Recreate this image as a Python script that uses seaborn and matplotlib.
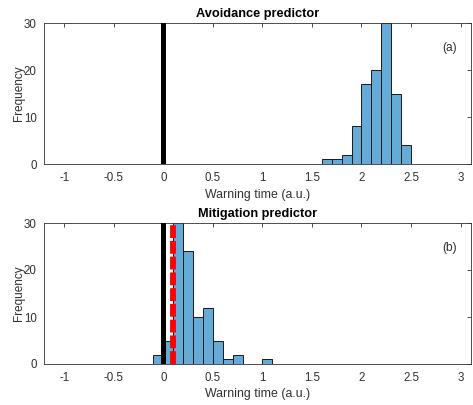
import numpy as np
import pandas as pd
import matplotlib
matplotlib.use("Agg")
import matplotlib.pyplot as plt
import seaborn as sns

# ---- data ----
avoid_edges = [1.6, 1.7, 1.8, 1.9, 2.0, 2.1, 2.2, 2.3, 2.4, 2.5]
avoid_counts = [1, 1, 2, 8, 17, 20, 30, 15, 4]
mitig_edges = [-0.1, 0.0, 0.1, 0.2, 0.3, 0.4, 0.5, 0.6, 0.7, 0.8, 0.9, 1.0, 1.1]
mitig_counts = [2, 5, 31, 24, 10, 12, 5, 1, 2, 0, 0, 1]
mitig_threshold = 0.1
zero_line = 0.0
xticks = [-1, -0.5, 0, 0.5, 1, 1.5, 2, 2.5, 3]
xticklabels = ["-1", "-0.5", "0", "0.5", "1", "1.5", "2", "2.5", "3"]
yticks = [0, 10, 20, 30]
titles = ["Avoidance predictor", "Mitigation predictor"]
panel_labels = ["(a)", "(b)"]

sns.set_style("white")
plt.rcParams["font.family"] = ["Liberation Sans", "DejaVu Sans"]
plt.rcParams["axes.unicode_minus"] = False

TXT = "#303030"
BAR = "#66aad7"

fig = plt.figure(figsize=(4.73, 4.05), dpi=100)
W, H = 473, 405
left, right = 44.4, 470.5
axes_px = [(23, 164), (223, 364)]
axs = []
for top, bot in axes_px:
    axs.append(fig.add_axes([left / W, 1 - bot / H, (right - left) / W, (bot - top) / H]))

datasets = [(avoid_edges, avoid_counts), (mitig_edges, mitig_counts)]
for i, ax in enumerate(axs):
    edges, counts = datasets[i]
    centers = [(edges[k] + edges[k + 1]) / 2 for k in range(len(counts))]
    df = pd.DataFrame({"x": centers, "w": counts})
    sns.histplot(data=df, x="x", weights="w", bins=edges, ax=ax,
                 color=BAR, alpha=1.0, edgecolor="#1a1a1a", linewidth=0.7)
    ax.axvline(zero_line, color="black", lw=3.6, zorder=5)
    if i == 1:
        ax.axvline(mitig_threshold, color="#ff0000", lw=4.2, zorder=6,
                   linestyle=(0, (2.2, 0.5)))
    ax.set_xlim(-1.2, 3.1)
    ax.set_ylim(0, 30)
    ax.set_xticks(xticks)
    ax.set_xticklabels(xticklabels)
    ax.set_yticks(yticks)
    ax.tick_params(direction="in", length=3, width=0.6, colors=TXT,
                   labelsize=8.3, top=True, right=True, pad=5.5)
    for s in ax.spines.values():
        s.set_visible(True)
        s.set_color(TXT)
        s.set_linewidth(0.6)
    ax.set_xlabel("Warning time (a.u.)", fontsize=8.9, color=TXT, labelpad=3.5)
    ax.set_ylabel("Frequency", fontsize=8.5, color=TXT, labelpad=-0.5)
    ax.set_title(titles[i], fontsize=9.2, fontweight="bold", color="black", pad=4)
    ax.text(0.95, 0.823, panel_labels[i], transform=ax.transAxes,
            fontsize=8.6, color=TXT, ha="center", va="center")

fig.savefig("out.png", dpi=100)
